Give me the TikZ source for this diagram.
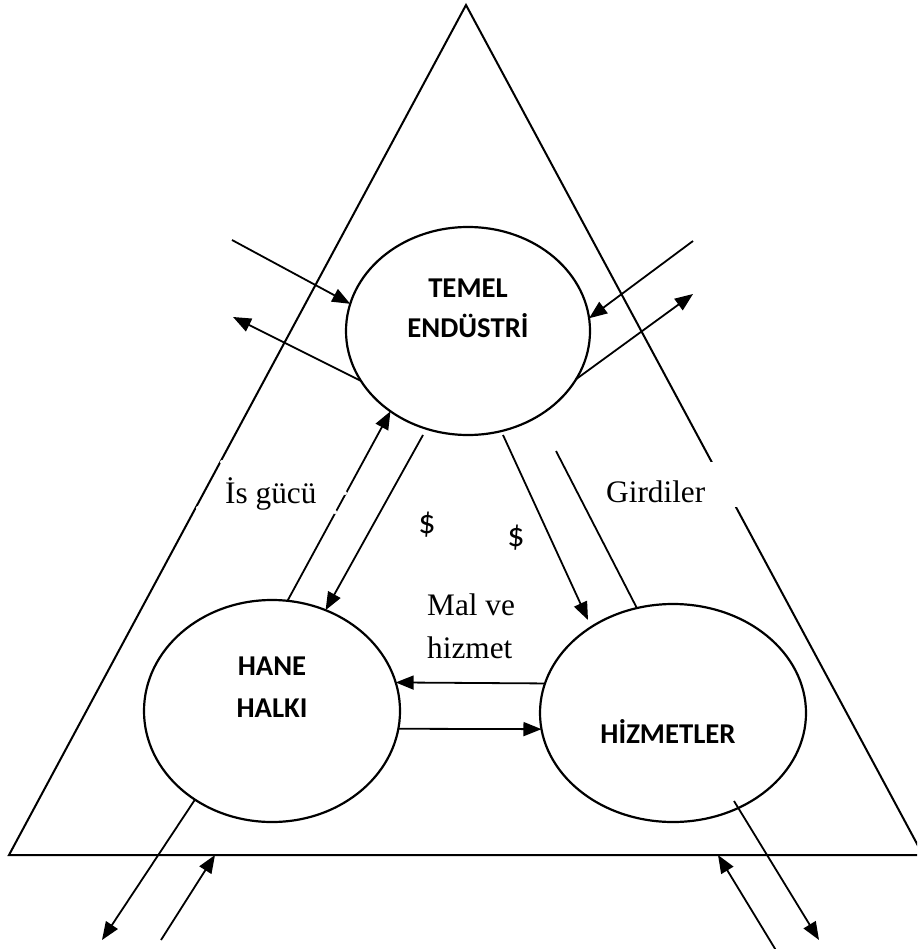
\documentclass[tikz,border=0pt]{standalone}
\usepackage{fontspec}
\setmainfont{Liberation Serif}
\newfontfamily\carlito{Carlito}
\usetikzlibrary{arrows.meta,shapes.geometric}
\begin{document}
\begin{tikzpicture}[x=1pt,y=-1pt,
  ell/.style={ellipse, draw, line width=2.2pt, inner sep=0pt, outer sep=0pt},
  conn/.style={line width=1.8pt},
  arr/.style={conn, -{Triangle[length=18pt,width=14pt]}},
  lbl/.style={font=\carlito\bfseries\fontsize{28.7pt}{34pt}\selectfont, anchor=base, inner sep=0pt},
  txt/.style={font=\fontsize{31.3pt}{38pt}\selectfont, anchor=base west, inner sep=0pt},
  dol/.style={font=\carlito\fontsize{34pt}{40pt}\selectfont, inner sep=0pt},
  gap/.style={fill=white}]
\useasboundingbox (0,0) rectangle (917,949);
\clip (0,0) rectangle (917,949);
% triangle
\coordinate (apex) at (466,5);
\coordinate (bl) at (9,855);
\coordinate (br) at (923,855);
\draw[line width=2pt, line join=miter] (bl) -- (apex) -- (br) -- cycle;
% ellipses
\node[ell, minimum width=244pt, minimum height=208pt] (te) at (468,331) {};
\node[ell, minimum width=256pt, minimum height=222pt] (hh) at (272,711) {};
\node[ell, minimum width=266pt, minimum height=218pt] (hz) at (673,713) {};
% free ends
\coordinate (tlin) at (232,240);
\coordinate (tlout) at (233,317);
\coordinate (trin) at (693,241);
\coordinate (trout) at (693,294);
\coordinate (d1s) at (423,435);
\coordinate (d2s) at (503,435);
\coordinate (d2e) at (588,620);
\coordinate (gs) at (556,451);
\coordinate (bl1) at (102,940);
\coordinate (bl2) at (161,940);
\coordinate (bs1) at (215,855);
\coordinate (br1) at (777,952);
\coordinate (bs2) at (718,855);
\coordinate (br2s) at (734,801);
\coordinate (br2) at (819,940);
% connectors
\draw[arr] (tlin) -- (te.167);
\draw[arr] (te.205.7) -- (tlout);
\draw[arr] (trin) -- (te.6.5);
\draw[arr] (te.-24.9) -- (trout);
\draw[arr] (hh.82.6) -- (te.226.8);
\draw[arr] (d1s) -- (hh.62);
\draw[arr] (d2s) -- (d2e);
\draw[conn] (gs) -- (hz.109.4);
\draw[arr] (hz.167) -- (hh.13);
\draw[arr] (hh.-8) -- (hz.187);
\draw[arr] (hh.229.8) -- (bl1);
\draw[arr] (bl2) -- (bs1);
\draw[arr] (br1) -- (bs2);
\draw[arr] (br2s) -- (br2);
% white boxes behind labels
\fill[gap] (592,462) rectangle (742,507);
\fill[gap] (222,462) circle (2pt);
\fill[gap] (198,508) circle (2pt);
\fill[gap] (345,493) circle (2pt);
\fill[gap] (335,512) circle (2pt);
% labels
\node[lbl] (te1) at (468,297) {TEMEL};
\node[lbl] (te2) at (468,337) {ENDÜSTRİ};
\node[lbl] (hh1) at (272,675) {HANE};
\node[lbl] (hh2) at (272,717) {HALKI};
\node[lbl] (hz1) at (668,743) {HİZMETLER};
\node[txt] (is) at (225,503) {İs gücü};
\node[txt] (gi) at (606,502) {Girdiler};
\node[txt] (mal1) at (427,615) {Mal ve};
\node[txt] (mal2) at (427,658) {hizmet};
\node[dol] (dl1) at (427,525) {\$};
\node[dol] (dl2) at (516,538) {\$};
\end{tikzpicture}
\end{document}
